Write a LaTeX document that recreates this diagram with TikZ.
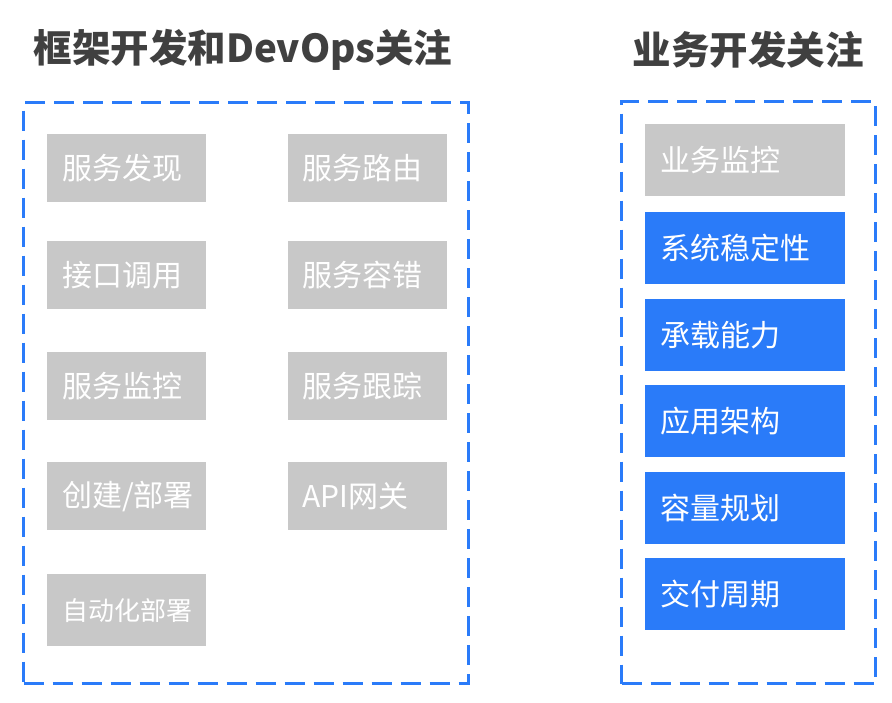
\documentclass[tikz,border=0pt]{standalone}
\usepackage{fontspec}
\setmainfont{Noto Sans CJK SC}
\usetikzlibrary{positioning}

\definecolor{itemgray}{HTML}{C8C8C8}
\definecolor{itemblue}{HTML}{2A7BF9}
\definecolor{titlegray}{HTML}{404040}

\begin{document}
\begin{tikzpicture}[
    x=1pt, y=-1pt,
    heading/.style={font=\fontsize{38.5}{42}\selectfont\bfseries, text=titlegray},
    groupbox/.style={rectangle, draw=itemblue, line width=3pt, dash pattern=on 20pt off 9pt, anchor=north west, inner sep=0pt},
    item/.style={rectangle, fill=itemgray, text=white, inner xsep=15pt, inner ysep=0pt, minimum height=68pt, align=left, anchor=north west, font=\fontsize{30}{32}\selectfont},
    leftitem/.style={item, text width=129pt},
    rightitem/.style={item, text width=170pt, minimum height=72pt},
    keyitem/.style={rightitem, fill=itemblue}
]
\useasboundingbox (0,0) rectangle (892,702);

% Headings
\node[heading] (devopstitle) at (243,50) {框架开发和DevOps关注};
\node[heading] (biztitle) at (748,50) {业务开发关注};

% Framework and DevOps group
\node[groupbox, minimum width=445pt, minimum height=581pt] (devopsbox) at (22,101) {};
\node[leftitem] (discovery) at (47,134) {服务发现};
\node[leftitem, right=81pt of discovery] (routing) {服务路由};
\node[leftitem] (interface) at (47,241) {接口调用};
\node[leftitem, right=81pt of interface] (faulttol) {服务容错};
\node[leftitem] (monitor) at (47,352) {服务监控};
\node[leftitem, right=81pt of monitor] (tracing) {服务跟踪};
\node[leftitem] (deploy) at (47,462) {创建/部署};
\node[leftitem, right=81pt of deploy] (gateway) {API网关};
\node[leftitem, minimum height=72pt, font=\fontsize{26}{30}\selectfont] (autodeploy) at (47,574) {自动化部署};

% Business group
\node[groupbox, minimum width=254pt, minimum height=582pt] (bizbox) at (620,100) {};
\node[rightitem] (bizmonitor) at (645,124) {业务监控};
\node[keyitem, below=15pt of bizmonitor] (stability) {系统稳定性};
\node[keyitem, below=15pt of stability] (capacity) {承载能力};
\node[keyitem, below=14pt of capacity] (architecture) {应用架构};
\node[keyitem, below=14pt of architecture] (planning) {容量规划};
\node[keyitem, below=14pt of planning] (delivery) {交付周期};

\end{tikzpicture}
\end{document}
